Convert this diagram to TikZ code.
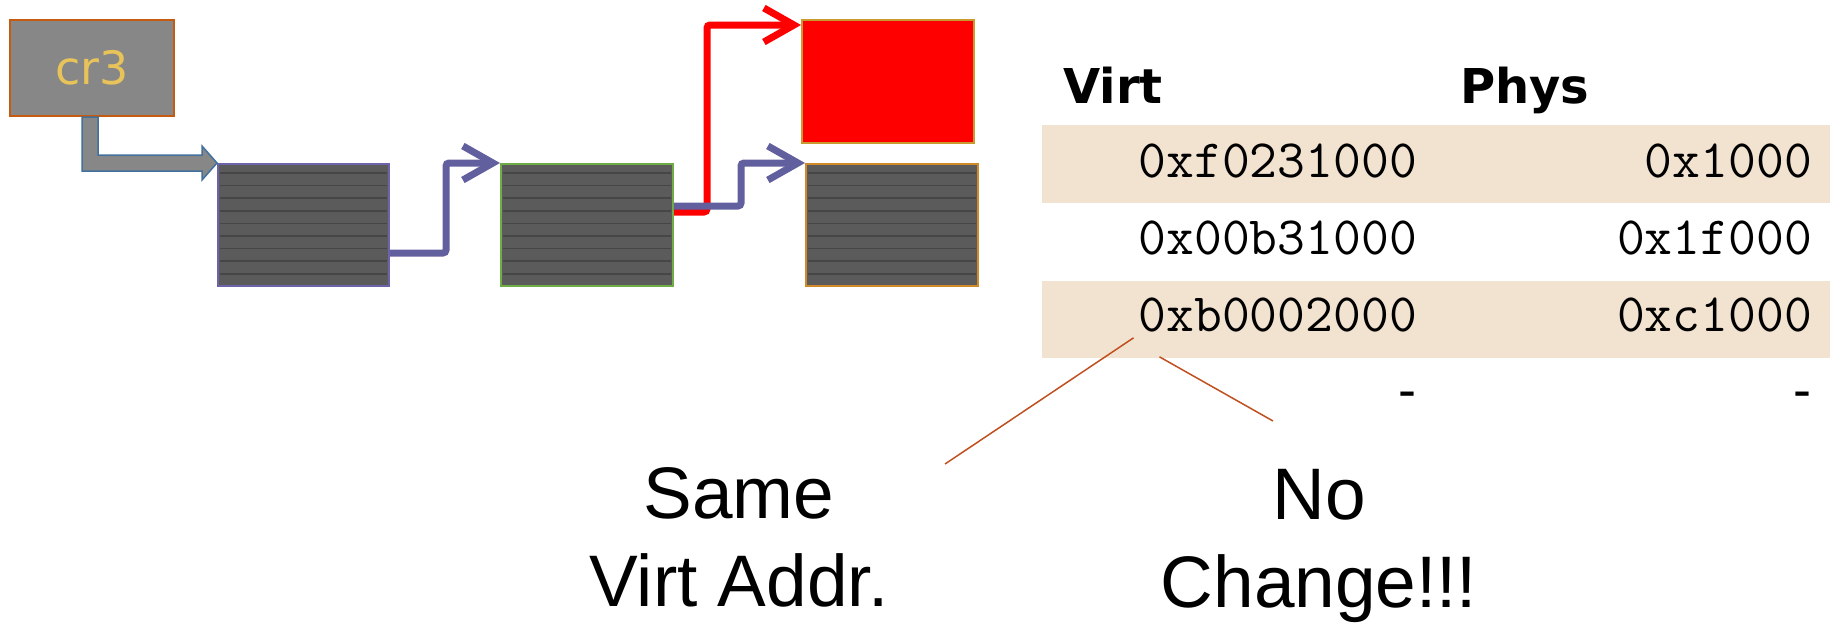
\documentclass[tikz,border=0pt]{standalone}
\usepackage{fontspec}
\setmainfont{Liberation Sans}
\newfontfamily\dejavu{DejaVu Sans}
\usetikzlibrary{arrows.meta}

\definecolor{regfill}{HTML}{878787}
\definecolor{regedge}{HTML}{C55A11}
\definecolor{regtext}{HTML}{E8C35A}
\definecolor{arrowedge}{HTML}{41719C}
\definecolor{pagefill}{HTML}{5B5B5B}
\definecolor{pageline}{HTML}{464646}
\definecolor{linkpurple}{HTML}{625F9E}
\definecolor{dirpurple}{HTML}{6C64A8}
\definecolor{tabgreen}{HTML}{70AD47}
\definecolor{pagegold}{HTML}{C99A2E}
\definecolor{pageorange}{HTML}{D08A2A}
\definecolor{rowtan}{HTML}{F2E3D0}
\definecolor{calloutline}{HTML}{C0501F}

\begin{document}
\begin{tikzpicture}[x=1pt, y=-1pt,
  pagebox/.style={draw, line width=2pt, fill=pagefill, minimum width=172pt, minimum height=122pt, inner sep=0pt},
  link/.style={line width=7pt, rounded corners=3pt, -{Straight Barb[length=30pt, width=34pt]}},
  hexcell/.style={font=\fontsize{54}{60}\selectfont\ttfamily, inner sep=0pt, anchor=base east},
  headcell/.style={font=\fontsize{48}{56}\selectfont\dejavu\bfseries, inner sep=0pt, anchor=base west},
  bigtext/.style={font=\fontsize{73}{88}\selectfont, align=center, inner sep=0pt, anchor=north},
  callout/.style={calloutline, line width=1.5pt}]

  \useasboundingbox (0,0) rectangle (1830,622);

  % cr3 register
  \node[draw=regedge, line width=2pt, fill=regfill, minimum width=164pt, minimum height=96pt,
        inner sep=0pt, text=regtext, font=\fontsize{46}{50}\selectfont\dejavu] (cr3) at (92,68) {cr3};

  % page table levels
  \node[pagebox, draw=dirpurple, minimum width=171pt] (pgdir) at (303.5,225) {};
  \node[pagebox, draw=tabgreen] (pgtab) at (587,225) {};
  \node[pagebox, draw=pagegold, fill=red, minimum height=123pt] (oldpage) at (888,81.5) {};
  \node[pagebox, draw=pageorange] (newpage) at (892,225) {};

  % stripes on the dark pages
  \foreach \b in {pgdir,pgtab,newpage}
    \foreach \k in {0,...,8}
      \draw[pageline, line width=1.5pt] ([shift={(3,10+12.6*\k)}]\b.north west) -- ([shift={(-3,10+12.6*\k)}]\b.north east);

  % cr3 points to the page directory
  \draw[arrowedge, line width=1.5pt, fill=regfill] ([xshift=-10pt]cr3.south)
    |- ([xshift=-15pt, yshift=-8pt]pgdir.north west) -- ++(0,9) -- (pgdir.north west)
    -- ++(-15,-17) -- ++(0,9) -| ([xshift=6pt]cr3.south) -- cycle;

  % links between the levels
  \draw[link, red] ([yshift=13pt]pgtab.east) -- ++(33,0) |- ([yshift=-6pt]oldpage.north west);
  \draw[link, linkpurple] ([yshift=-28pt]pgdir.east) -- ++(56,0) |- (pgtab.north west);
  \draw[link, linkpurple] ([yshift=19pt]pgtab.east) -- ++(67,0) |- (newpage.north west);

  % mapping table
  \fill[rowtan] (1042,125) rectangle (1830,203);
  \fill[rowtan] (1042,281) rectangle (1830,358);
  \node[headcell] (virt) at (1063,103) {Virt};
  \node[headcell] (phys) at (1460,103) {Phys};
  \foreach \v/\p [count=\i] in {0xf0231000/0x1000, 0x00b31000/0x1f000, 0xb0002000/0xc1000, {\rmfamily -}/{\rmfamily -}} {
    \node[hexcell] (v\i) at (1417,100+77*\i) {\v};
    \node[hexcell] (p\i) at (1812,100+77*\i) {\p};
  }

  % callouts
  \coordinate (samept) at (945,464);
  \coordinate (nopt) at (1273,421);
  \draw[callout] ([shift={(-5,6)}]v3.south west) -- (samept);
  \draw[callout] ([shift={(21,25)}]v3.south west) -- (nopt);
  \node[bigtext] (same) at (739,467) {Same\\Virt Addr.};
  \node[bigtext] (nochange) at (1319,469) {No\\Change!!!};
\end{tikzpicture}
\end{document}
